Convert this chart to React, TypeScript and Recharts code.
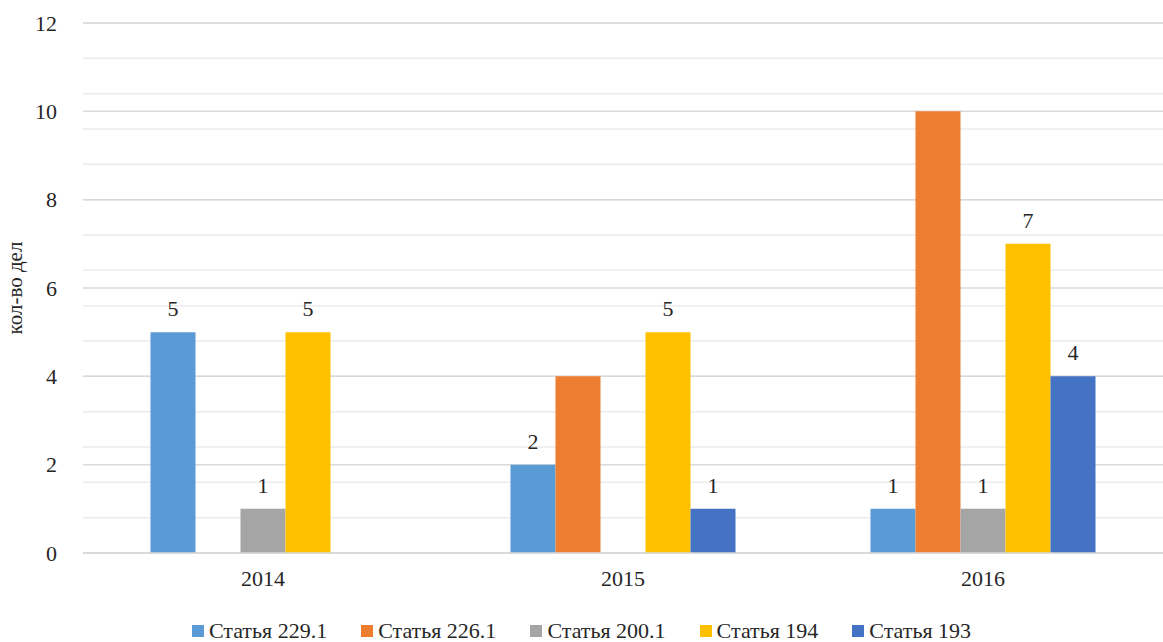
import React from "react";
import { BarChart, Bar, XAxis, YAxis, CartesianGrid, Legend, LabelList } from "recharts";

const years = ["2014", "2015", "2016"];
const seriesNames = ["Статья 229.1", "Статья 226.1", "Статья 200.1", "Статья 194", "Статья 193"];
const seriesColors = ["#5b9bd5", "#ed7d31", "#a5a5a5", "#ffc000", "#4472c4"];
const s2291 = [5, 2, 1];
const s2261 = [0, 4, 10];
const s2001 = [1, 0, 1];
const s194 = [5, 5, 7];
const s193 = [0, 1, 4];
const majorTicks = [0, 2, 4, 6, 8, 10, 12];
const minorTicks = [0, 0.4, 0.8, 1.2, 1.6, 2, 2.4, 2.8, 3.2, 3.6, 4, 4.4, 4.8, 5.2, 5.6, 6, 6.4, 6.8, 7.2, 7.6, 8, 8.4, 8.8, 9.2, 9.6, 10, 10.4, 10.8, 11.2, 11.6, 12];

const keys = ["a", "b", "c", "d", "e"];
const data = years.map((y, i) => ({
  year: y,
  a: s2291[i],
  b: s2261[i],
  c: s2001[i],
  d: s194[i],
  e: s193[i],
}));

const FONT = "Liberation Serif, Tinos, Times New Roman, Times, DejaVu Serif, Noto Serif, serif";
const TEXT = "#262626";

const labelFmt = (v: any) => (v === 0 ? "" : v);

const LegendContent = () => (
  <div
    style={{
      display: "flex",
      justifyContent: "center",
      alignItems: "center",
      height: 24,
      fontFamily: FONT,
      fontSize: 22,
      color: TEXT,
      lineHeight: "24px",
    }}
  >
    {seriesNames.map((n, i) => (
      <div key={n} style={{ display: "flex", alignItems: "center", marginRight: i < seriesNames.length - 1 ? 34 : 0 }}>
        <span style={{ display: "inline-block", width: 12, height: 12, background: seriesColors[i], marginRight: 5 }} />
        <span>{n}</span>
      </div>
    ))}
  </div>
);

export default function App() {
  return (
    <div style={{ width: 1163, height: 642, fontFamily: FONT }}>
      <style>{`body{margin:0}`}</style>
      <BarChart
        width={1163}
        height={642}
        data={data}
        margin={{ top: 23, right: 0, bottom: 0, left: 0 }}
        barGap={0}
        barCategoryGap="18.75%"
        style={{ fontFamily: FONT }}
      >
        <CartesianGrid yAxisId="main" vertical={false} horizontalValues={minorTicks} stroke="#ebebeb" strokeWidth={1.5} />
        <CartesianGrid yAxisId="main" vertical={false} horizontalValues={majorTicks} stroke="#d9d9d9" strokeWidth={1.5} />
        <XAxis
          dataKey="year"
          axisLine={{ stroke: "#d9d9d9", strokeWidth: 1.5 }}
          tickLine={false}
          height={65}
          tick={{ fontSize: 22, fill: TEXT, fontFamily: FONT, dy: 9 }}
        />
        <YAxis
          yAxisId="main"
          domain={[0, 12]}
          ticks={majorTicks}
          width={83}
          axisLine={false}
          tickLine={false}
          tickMargin={20}
          tick={{ fontSize: 22, fill: TEXT, fontFamily: FONT }}
          label={{
            value: "кол-во дел",
            angle: -90,
            position: "insideLeft",
            dx: 10,
            style: { fontSize: 21, fill: TEXT, fontFamily: FONT, textAnchor: "middle" },
          }}
        />
        <Legend
          verticalAlign="bottom"
          content={<LegendContent />}
          wrapperStyle={{ bottom: -1 }}
        />
        {keys.map((k, i) => (
          <Bar key={k} yAxisId="main" dataKey={k} name={seriesNames[i]} fill={seriesColors[i]} isAnimationActive={false}>
            {k !== "b" && (
              <LabelList dataKey={k} position="top" offset={16} formatter={labelFmt} style={{ fontSize: 22, fill: TEXT, fontFamily: FONT }} />
            )}
          </Bar>
        ))}
      </BarChart>
    </div>
  );
}
